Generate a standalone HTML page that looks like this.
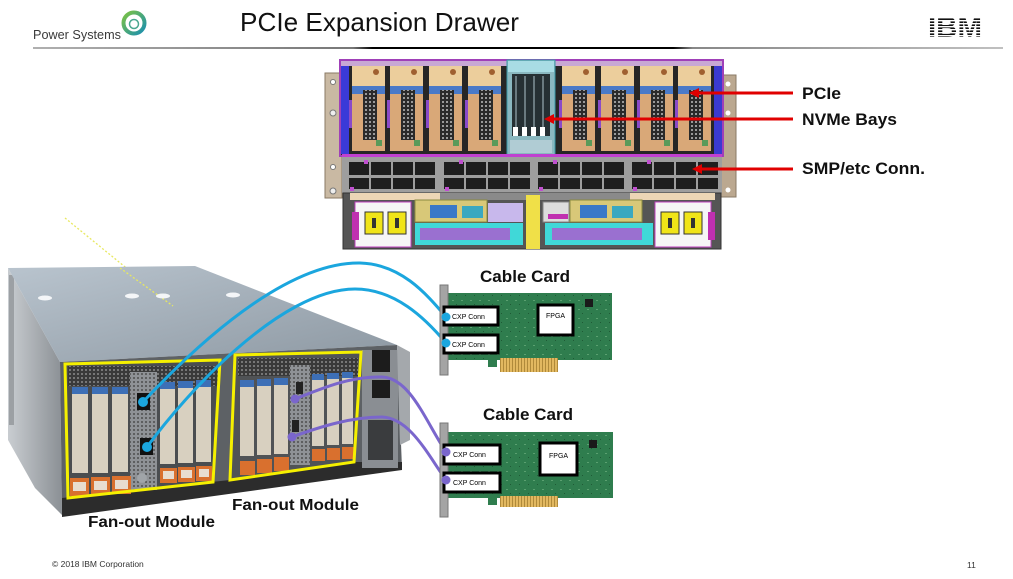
<!DOCTYPE html>
<html><head><meta charset="utf-8"><style>
html,body{margin:0;padding:0;background:#fff;}
svg{display:block;}
text{font-family:"Liberation Sans",Arial,sans-serif;}
</style></head><body>
<svg width="1013" height="579" viewBox="0 0 1013 579" xmlns="http://www.w3.org/2000/svg">
<defs>
<linearGradient id="hl" x1="0" x2="1" y1="0" y2="0">
<stop offset="0" stop-color="#b0b0b0"/><stop offset="0.33" stop-color="#777"/><stop offset="0.35" stop-color="#000"/><stop offset="0.66" stop-color="#000"/><stop offset="0.68" stop-color="#888"/><stop offset="1" stop-color="#c0c0c0"/>
</linearGradient>
<linearGradient id="top" x1="0" y1="0" x2="1" y2="1">
<stop offset="0" stop-color="#b9c4ce"/><stop offset="1" stop-color="#8d98a2"/>
</linearGradient>
<linearGradient id="side" x1="0" y1="0" x2="1" y2="0">
<stop offset="0" stop-color="#c9cdd1"/><stop offset="1" stop-color="#8b9095"/>
</linearGradient>
<linearGradient id="logo" x1="0" y1="0" x2="1" y2="1">
<stop offset="0" stop-color="#7cc242"/><stop offset="1" stop-color="#1a8fb0"/>
</linearGradient>
<pattern id="vent" width="4" height="4" patternUnits="userSpaceOnUse">
<rect width="4" height="4" fill="#3a3a3a"/><circle cx="2" cy="2" r="1" fill="#8a8a8a"/>
</pattern>
<pattern id="vent2" width="4" height="4" patternUnits="userSpaceOnUse">
<rect width="4" height="4" fill="#8f9296"/><circle cx="2" cy="2" r="0.9" fill="#3a3a3a"/>
</pattern>
<pattern id="pcb" width="9" height="9" patternUnits="userSpaceOnUse">
<rect width="9" height="9" fill="#2f7d4e"/><rect x="2" y="3" width="2" height="1" fill="#5aa070"/><rect x="6" y="7" width="1" height="1" fill="#1f5a36"/>
</pattern>
<pattern id="gold" width="3" height="12" patternUnits="userSpaceOnUse">
<rect width="3" height="12" fill="#b08a3a"/><rect width="2" height="12" fill="#e2b860"/>
</pattern>
<pattern id="conn" width="4" height="4" patternUnits="userSpaceOnUse">
<rect width="4" height="4" fill="#2a2a2a"/><rect x="1" y="1" width="2" height="2" fill="#9a9a9a"/>
</pattern>
</defs>

<!-- Header -->
<text x="33" y="39" font-size="12.5" fill="#3a3a3a" textLength="88" lengthAdjust="spacingAndGlyphs">Power Systems</text>
<circle cx="134" cy="23" r="10.5" fill="none" stroke="url(#logo)" stroke-width="4"/>
<circle cx="134" cy="24" r="4.5" fill="#fff" stroke="#4aa890" stroke-width="1.5"/>
<text x="240" y="31" font-size="26" fill="#111" textLength="279" lengthAdjust="spacingAndGlyphs">PCIe Expansion Drawer</text>
<text x="928" y="37" font-size="29" font-weight="bold" fill="#111" textLength="54" lengthAdjust="spacingAndGlyphs" font-family="Liberation Serif, serif">IBM</text>
<g fill="#fff">
<rect x="925" y="17" width="60" height="1.4"/><rect x="925" y="20" width="60" height="1.4"/><rect x="925" y="23" width="60" height="1.4"/><rect x="925" y="26" width="60" height="1.4"/><rect x="925" y="29" width="60" height="1.4"/><rect x="925" y="32" width="60" height="1.4"/><rect x="925" y="35" width="60" height="1.4"/>
</g>
<rect x="33" y="47" width="970" height="2" fill="url(#hl)"/>

<!-- ===== Top drawer drawing ===== -->
<rect x="325" y="73" width="17" height="125" fill="#c9b9a3" stroke="#8a7a66"/>
<circle cx="333" cy="82" r="2.5" fill="#fff" stroke="#777"/><circle cx="333" cy="113" r="3" fill="#eee" stroke="#777"/><circle cx="333" cy="167" r="2.5" fill="#fff" stroke="#777"/><circle cx="333" cy="191" r="3" fill="#eee" stroke="#777"/>
<rect x="720" y="75" width="16" height="122" fill="#bba890" stroke="#8a7a66"/>
<circle cx="728" cy="84" r="2.5" fill="#fff"/><circle cx="728" cy="113" r="2.5" fill="#fff"/><circle cx="728" cy="190" r="2.5" fill="#fff"/>
<rect x="340" y="60" width="383" height="96" fill="#262626" stroke="#a040b8" stroke-width="2"/>
<rect x="341" y="61" width="381" height="5" fill="#c8a8d4"/>
<rect x="341" y="66" width="8" height="88" fill="#3a3ad8"/>
<rect x="714" y="66" width="8" height="88" fill="#3a3ad0"/>
<g id="cas">
</g>
<!-- cassettes -->
<g>
<g transform="translate(352,0)"><rect x="0" y="66" width="33" height="22" fill="#ecce9c"/><circle cx="24" cy="72" r="3" fill="#a06030"/><rect x="0" y="86" width="33" height="8" fill="#4a7ac8"/><rect x="0" y="94" width="33" height="57" fill="#d9a878"/><rect x="11" y="90" width="14" height="50" fill="url(#conn)"/><rect x="-3" y="100" width="3" height="28" fill="#8a4ac8"/><rect x="24" y="140" width="6" height="6" fill="#5a9a5a"/></g>
<g transform="translate(390,0)"><rect x="0" y="66" width="33" height="22" fill="#ecce9c"/><circle cx="24" cy="72" r="3" fill="#a06030"/><rect x="0" y="86" width="33" height="8" fill="#4a7ac8"/><rect x="0" y="94" width="33" height="57" fill="#d9a878"/><rect x="11" y="90" width="14" height="50" fill="url(#conn)"/><rect x="-3" y="100" width="3" height="28" fill="#8a4ac8"/><rect x="24" y="140" width="6" height="6" fill="#5a9a5a"/></g>
<g transform="translate(429,0)"><rect x="0" y="66" width="33" height="22" fill="#ecce9c"/><circle cx="24" cy="72" r="3" fill="#a06030"/><rect x="0" y="86" width="33" height="8" fill="#4a7ac8"/><rect x="0" y="94" width="33" height="57" fill="#d9a878"/><rect x="11" y="90" width="14" height="50" fill="url(#conn)"/><rect x="-3" y="100" width="3" height="28" fill="#8a4ac8"/><rect x="24" y="140" width="6" height="6" fill="#5a9a5a"/></g>
<g transform="translate(468,0)"><rect x="0" y="66" width="33" height="22" fill="#ecce9c"/><circle cx="24" cy="72" r="3" fill="#a06030"/><rect x="0" y="86" width="33" height="8" fill="#4a7ac8"/><rect x="0" y="94" width="33" height="57" fill="#d9a878"/><rect x="11" y="90" width="14" height="50" fill="url(#conn)"/><rect x="-3" y="100" width="3" height="28" fill="#8a4ac8"/><rect x="24" y="140" width="6" height="6" fill="#5a9a5a"/></g>
<g transform="translate(562,0)"><rect x="0" y="66" width="33" height="22" fill="#ecce9c"/><circle cx="24" cy="72" r="3" fill="#a06030"/><rect x="0" y="86" width="33" height="8" fill="#4a7ac8"/><rect x="0" y="94" width="33" height="57" fill="#d9a878"/><rect x="11" y="90" width="14" height="50" fill="url(#conn)"/><rect x="-3" y="100" width="3" height="28" fill="#8a4ac8"/><rect x="24" y="140" width="6" height="6" fill="#5a9a5a"/></g>
<g transform="translate(601,0)"><rect x="0" y="66" width="33" height="22" fill="#ecce9c"/><circle cx="24" cy="72" r="3" fill="#a06030"/><rect x="0" y="86" width="33" height="8" fill="#4a7ac8"/><rect x="0" y="94" width="33" height="57" fill="#d9a878"/><rect x="11" y="90" width="14" height="50" fill="url(#conn)"/><rect x="-3" y="100" width="3" height="28" fill="#8a4ac8"/><rect x="24" y="140" width="6" height="6" fill="#5a9a5a"/></g>
<g transform="translate(640,0)"><rect x="0" y="66" width="33" height="22" fill="#ecce9c"/><circle cx="24" cy="72" r="3" fill="#a06030"/><rect x="0" y="86" width="33" height="8" fill="#4a7ac8"/><rect x="0" y="94" width="33" height="57" fill="#d9a878"/><rect x="11" y="90" width="14" height="50" fill="url(#conn)"/><rect x="-3" y="100" width="3" height="28" fill="#8a4ac8"/><rect x="24" y="140" width="6" height="6" fill="#5a9a5a"/></g>
<g transform="translate(678,0)"><rect x="0" y="66" width="33" height="22" fill="#ecce9c"/><circle cx="24" cy="72" r="3" fill="#a06030"/><rect x="0" y="86" width="33" height="8" fill="#4a7ac8"/><rect x="0" y="94" width="33" height="57" fill="#d9a878"/><rect x="11" y="90" width="14" height="50" fill="url(#conn)"/><rect x="-3" y="100" width="3" height="28" fill="#8a4ac8"/><rect x="24" y="140" width="6" height="6" fill="#5a9a5a"/></g>
</g>
<!-- NVMe bay -->
<rect x="507" y="60" width="48" height="95" fill="#8ab8c0" stroke="#3a9aa8"/>
<rect x="508" y="61" width="46" height="11" fill="#a8dce4"/>
<rect x="512" y="74" width="38" height="62" fill="#263034"/>
<g fill="#6a7a80"><rect x="515" y="76" width="2" height="56"/><rect x="524" y="76" width="2" height="56"/><rect x="533" y="76" width="2" height="56"/><rect x="542" y="76" width="2" height="56"/></g>
<g fill="#fff"><rect x="513" y="127" width="5" height="9"/><rect x="522" y="127" width="5" height="9"/><rect x="531" y="127" width="5" height="9"/><rect x="540" y="127" width="5" height="9"/></g>
<rect x="510" y="140" width="42" height="13" fill="#b0ccd4"/>
<!-- SMP band -->
<rect x="342" y="155" width="380" height="38" fill="#9e9e9e"/>
<rect x="342" y="154" width="380" height="3" fill="#c040d0"/>
<g fill="#1e1e1e">
<rect x="349" y="162" width="20" height="13"/><rect x="371" y="162" width="20" height="13"/><rect x="393" y="162" width="20" height="13"/><rect x="415" y="162" width="20" height="13"/>
<rect x="349" y="178" width="20" height="11"/><rect x="371" y="178" width="20" height="11"/><rect x="393" y="178" width="20" height="11"/><rect x="415" y="178" width="20" height="11"/>
<rect x="444" y="162" width="20" height="13"/><rect x="466" y="162" width="20" height="13"/><rect x="488" y="162" width="20" height="13"/><rect x="510" y="162" width="20" height="13"/>
<rect x="444" y="178" width="20" height="11"/><rect x="466" y="178" width="20" height="11"/><rect x="488" y="178" width="20" height="11"/><rect x="510" y="178" width="20" height="11"/>
<rect x="538" y="162" width="20" height="13"/><rect x="560" y="162" width="20" height="13"/><rect x="582" y="162" width="20" height="13"/><rect x="604" y="162" width="20" height="13"/>
<rect x="538" y="178" width="20" height="11"/><rect x="560" y="178" width="20" height="11"/><rect x="582" y="178" width="20" height="11"/><rect x="604" y="178" width="20" height="11"/>
<rect x="632" y="162" width="20" height="13"/><rect x="654" y="162" width="20" height="13"/><rect x="676" y="162" width="20" height="13"/><rect x="698" y="162" width="20" height="13"/>
<rect x="632" y="178" width="20" height="11"/><rect x="654" y="178" width="20" height="11"/><rect x="676" y="178" width="20" height="11"/><rect x="698" y="178" width="20" height="11"/>
</g>
<g fill="#c050d0"><rect x="364" y="160" width="4" height="4"/><rect x="459" y="160" width="4" height="4"/><rect x="553" y="160" width="4" height="4"/><rect x="647" y="160" width="4" height="4"/><rect x="350" y="187" width="4" height="4"/><rect x="445" y="187" width="4" height="4"/><rect x="539" y="187" width="4" height="4"/><rect x="633" y="187" width="4" height="4"/></g>
<!-- lower section -->
<rect x="343" y="193" width="378" height="56" fill="#555" stroke="#333"/>
<rect x="350" y="193" width="90" height="7" fill="#ecd6b6"/><rect x="630" y="193" width="85" height="7" fill="#ecd6b6"/>
<rect x="440" y="193" width="190" height="7" fill="#8a8a8a"/>
<rect x="355" y="202" width="56" height="45" fill="#f6f6f6" stroke="#c040c0"/>
<rect x="352" y="212" width="7" height="28" fill="#c030b0"/>
<rect x="365" y="212" width="18" height="22" fill="#f0e418" stroke="#333"/><rect x="388" y="212" width="18" height="22" fill="#f0e418" stroke="#333"/>
<rect x="372" y="218" width="4" height="10" fill="#333"/><rect x="395" y="218" width="4" height="10" fill="#333"/>
<rect x="415" y="200" width="72" height="22" fill="#d8c878" stroke="#8a8a40"/>
<rect x="430" y="205" width="27" height="13" fill="#3a78c8"/><rect x="462" y="206" width="21" height="12" fill="#3aa8c0"/>
<rect x="488" y="203" width="35" height="19" fill="#c8b8ec"/>
<rect x="415" y="223" width="108" height="22" fill="#40d8d8"/>
<rect x="420" y="228" width="90" height="12" fill="#9a70d0"/>
<rect x="526" y="195" width="14" height="54" fill="#f0e048"/>
<rect x="543" y="202" width="26" height="20" fill="#ddd" stroke="#888"/>
<rect x="570" y="200" width="72" height="22" fill="#d8c878" stroke="#8a8a40"/>
<rect x="580" y="205" width="27" height="13" fill="#3a78c8"/><rect x="612" y="206" width="21" height="12" fill="#3aa8c0"/>
<rect x="545" y="223" width="108" height="22" fill="#40d8d8"/>
<rect x="552" y="228" width="90" height="12" fill="#9a70d0"/>
<rect x="548" y="214" width="20" height="5" fill="#c030b0"/>
<rect x="655" y="202" width="56" height="45" fill="#f6f6f6" stroke="#c040c0"/>
<rect x="708" y="212" width="7" height="28" fill="#c030b0"/>
<rect x="661" y="212" width="18" height="22" fill="#f0e418" stroke="#333"/><rect x="684" y="212" width="18" height="22" fill="#f0e418" stroke="#333"/>
<rect x="668" y="218" width="4" height="10" fill="#333"/><rect x="691" y="218" width="4" height="10" fill="#333"/>

<!-- red arrows -->
<g stroke="#e00000" stroke-width="3">
<line x1="697" y1="93" x2="793" y2="93"/><line x1="552" y1="119" x2="793" y2="119"/><line x1="700" y1="169" x2="793" y2="169"/>
</g>
<g fill="#e00000">
<polygon points="689,93 699,88 699,98"/><polygon points="544,119 554,114 554,124"/><polygon points="692,169 702,164 702,174"/>
</g>
<g font-weight="bold" font-size="17" fill="#111">
<text x="802" y="99" textLength="39" lengthAdjust="spacingAndGlyphs">PCIe</text>
<text x="802" y="125" textLength="95" lengthAdjust="spacingAndGlyphs">NVMe Bays</text>
<text x="802" y="174" textLength="123" lengthAdjust="spacingAndGlyphs">SMP/etc Conn.</text>
</g>

<!-- ===== Left chassis photo ===== -->
<line x1="65" y1="218" x2="173" y2="306" stroke="#e8e860" stroke-width="1.3" stroke-dasharray="2,2"/>
<polygon points="8,268 60,362 62,515 35,488 8,440" fill="url(#side)"/>
<rect x="9" y="275" width="5" height="150" fill="#9ca0a4"/>
<polygon points="8,268 195,266 397,345 60,362" fill="url(#top)"/>
<line x1="8" y1="268" x2="173" y2="306" stroke="#e8e860" stroke-width="1.3" stroke-dasharray="2,2" opacity="0"/>
<line x1="120" y1="268" x2="173" y2="306" stroke="#e8e860" stroke-width="1.3" stroke-dasharray="2,2"/>
<g fill="#f4f6f8"><ellipse cx="45" cy="298" rx="7" ry="2.5"/><ellipse cx="132" cy="296" rx="7" ry="2.5"/><ellipse cx="163" cy="296" rx="7" ry="2.5"/><ellipse cx="233" cy="295" rx="7" ry="2.5"/></g>
<polygon points="60,362 397,345 402,468 62,515" fill="#5d6165"/>
<polygon points="62,498 230,480 354,462 402,462 402,470 62,517" fill="#2c2c2c"/>
<rect x="362" y="350" width="36" height="118" fill="#8a8e93"/>
<rect x="372" y="350" width="18" height="22" fill="#1c1c1c"/><rect x="372" y="380" width="18" height="18" fill="#1c1c1c"/>
<rect x="368" y="420" width="25" height="40" fill="#3a3c3e"/>
<polygon points="397,345 410,352 410,440 400,445" fill="#a4a8ac"/>

<!-- left fan-out box interior -->
<polygon points="65,364 220,360 213,482 68,498" fill="#4a4d50"/>
<rect x="68" y="366" width="150" height="20" fill="url(#vent)"/>
<g fill="#d8d0c0"><rect x="72" y="393" width="16" height="80"/><rect x="92" y="393" width="16" height="80"/><rect x="112" y="393" width="16" height="79"/></g>
<g fill="#3d6fb6"><rect x="72" y="387" width="16" height="7"/><rect x="92" y="387" width="16" height="7"/><rect x="112" y="387" width="16" height="7"/></g>
<rect x="130" y="372" width="27" height="118" fill="url(#vent2)"/>
<rect x="137" y="393" width="13" height="17" fill="#111"/><rect x="140" y="438" width="13" height="17" fill="#111"/>
<circle cx="142" cy="478" r="5" fill="#a0a4a8"/>
<g fill="#d8d0c0"><rect x="160" y="388" width="15" height="76"/><rect x="178" y="387" width="15" height="76"/><rect x="196" y="386" width="15" height="76"/></g>
<g fill="#3d6fb6"><rect x="160" y="382" width="15" height="7"/><rect x="178" y="381" width="15" height="7"/><rect x="196" y="380" width="15" height="7"/></g>
<g fill="#d9702e"><rect x="70" y="478" width="19" height="18"/><rect x="91" y="477" width="19" height="18"/><rect x="112" y="476" width="19" height="18"/><rect x="160" y="468" width="17" height="15"/><rect x="178" y="467" width="17" height="15"/><rect x="196" y="466" width="16" height="15"/></g>
<g fill="#e8ddd0"><rect x="73" y="482" width="13" height="9"/><rect x="94" y="481" width="13" height="9"/><rect x="115" y="480" width="13" height="9"/><rect x="163" y="471" width="11" height="8"/><rect x="181" y="470" width="11" height="8"/><rect x="199" y="469" width="10" height="8"/></g>
<polygon points="65,364 220,360 213,482 68,498" fill="none" stroke="#f5f000" stroke-width="3"/>

<!-- right fan-out box interior -->
<polygon points="235,355 361,352 354,462 230,480" fill="#505356"/>
<rect x="238" y="358" width="120" height="18" fill="url(#vent)"/>
<g fill="#d8d0c0"><rect x="240" y="386" width="14" height="70"/><rect x="257" y="385" width="14" height="70"/><rect x="274" y="384" width="14" height="70"/><rect x="312" y="380" width="12" height="66"/><rect x="327" y="379" width="12" height="66"/><rect x="342" y="378" width="11" height="66"/></g>
<g fill="#3d6fb6"><rect x="240" y="380" width="14" height="7"/><rect x="257" y="379" width="14" height="7"/><rect x="274" y="378" width="14" height="7"/><rect x="312" y="374" width="12" height="6"/><rect x="327" y="373" width="12" height="6"/><rect x="342" y="372" width="11" height="6"/></g>
<rect x="290" y="365" width="20" height="100" fill="url(#vent2)"/>
<rect x="296" y="382" width="7" height="12" fill="#222"/><rect x="292" y="420" width="7" height="12" fill="#222"/>
<g fill="#d9702e"><rect x="240" y="461" width="15" height="14"/><rect x="257" y="459" width="15" height="14"/><rect x="274" y="457" width="15" height="14"/><rect x="312" y="449" width="13" height="12"/><rect x="327" y="448" width="13" height="12"/><rect x="342" y="447" width="12" height="12"/></g>
<polygon points="235,355 361,352 354,462 230,480" fill="none" stroke="#f5f000" stroke-width="3"/>

<!-- cables -->
<g fill="none" stroke-width="3" stroke-linecap="round">
<path d="M143,402 C215,325 295,262 360,263 C400,264 425,292 446,317" stroke="#1ba6de"/>
<path d="M147,447 C185,395 280,289 355,289 C395,289 425,318 446,343" stroke="#1ba6de"/>
<path d="M295,399 C325,387 352,376 382,377 C410,378 425,420 446,452" stroke="#7a66cc"/>
<path d="M292,437 C322,426 352,417 382,417 C410,418 428,455 446,480" stroke="#7a66cc"/>
</g>
<g fill="#1ba6de"><circle cx="143" cy="402" r="5"/><circle cx="147" cy="447" r="5"/></g>
<g fill="#7a66cc"><circle cx="295" cy="399" r="4.5"/><circle cx="292" cy="437" r="4.5"/></g>

<!-- labels -->
<g font-weight="bold" font-size="16" fill="#111">
<text x="88" y="527" textLength="127" lengthAdjust="spacingAndGlyphs">Fan-out Module</text>
<text x="232" y="510" textLength="127" lengthAdjust="spacingAndGlyphs">Fan-out Module</text>
<text x="480" y="282" font-size="17" textLength="90" lengthAdjust="spacingAndGlyphs">Cable Card</text>
<text x="483" y="420" font-size="17" textLength="90" lengthAdjust="spacingAndGlyphs">Cable Card</text>
</g>

<!-- cable card 1 -->
<rect x="448" y="293" width="164" height="67" fill="url(#pcb)"/>
<rect x="500" y="358" width="58" height="14" fill="url(#gold)"/>
<rect x="488" y="358" width="9" height="9" fill="#2f7d4e"/>
<rect x="585" y="299" width="8" height="8" fill="#1a1a1a"/>
<rect x="440" y="285" width="8" height="90" fill="#a4a4a4" stroke="#777"/>
<rect x="444" y="307" width="54" height="18" fill="#fff" stroke="#000" stroke-width="3"/>
<rect x="444" y="335" width="54" height="18" fill="#fff" stroke="#000" stroke-width="3"/>
<rect x="538" y="305" width="35" height="30" fill="#fff" stroke="#000" stroke-width="3"/>
<g font-size="7" fill="#000"><text x="452" y="319">CXP Conn</text><text x="452" y="347">CXP Conn</text><text x="546" y="318">FPGA</text></g>
<g fill="#1ba6de"><circle cx="446" cy="317" r="4.5"/><circle cx="446" cy="343" r="4.5"/></g>

<!-- cable card 2 -->
<rect x="448" y="432" width="165" height="66" fill="url(#pcb)"/>
<rect x="500" y="496" width="58" height="11" fill="url(#gold)"/>
<rect x="488" y="496" width="9" height="9" fill="#2f7d4e"/>
<rect x="589" y="440" width="8" height="8" fill="#1a1a1a"/>
<rect x="440" y="423" width="8" height="94" fill="#a4a4a4" stroke="#777"/>
<rect x="444" y="445" width="56" height="19" fill="#fff" stroke="#000" stroke-width="3"/>
<rect x="444" y="473" width="56" height="19" fill="#fff" stroke="#000" stroke-width="3"/>
<rect x="540" y="443" width="37" height="32" fill="#fff" stroke="#000" stroke-width="3"/>
<g font-size="7" fill="#000"><text x="453" y="457">CXP Conn</text><text x="453" y="485">CXP Conn</text><text x="549" y="458">FPGA</text></g>
<g fill="#7a66cc"><circle cx="446" cy="452" r="4.5"/><circle cx="446" cy="480" r="4.5"/></g>

<!-- footer -->
<text x="52" y="567" font-size="8.5" fill="#333">© 2018 IBM Corporation</text>
<text x="967" y="568" font-size="8.5" fill="#333">11</text>
</svg>
</body></html>
